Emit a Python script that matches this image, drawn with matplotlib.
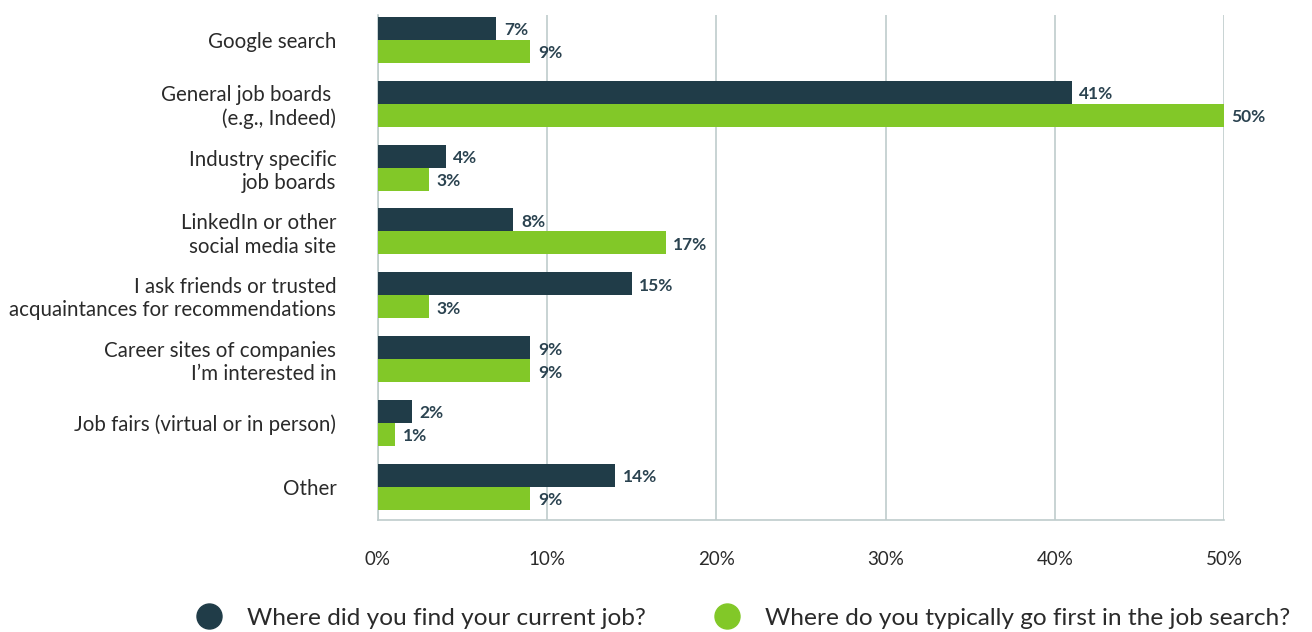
import matplotlib
import matplotlib.pyplot as plt
import numpy as np
from matplotlib.lines import Line2D

matplotlib.use('Agg')

plt.rcParams["font.family"] = ["Lato", "DejaVu Sans"]

# 数据
categories = [
    "Google search",
    "General job boards \n(e.g., Indeed)",
    "Industry specific\njob boards",
    "LinkedIn or other\nsocial media site",
    "I ask friends or trusted\nacquaintances for recommendations",
    "Career sites of companies\nI\u2019m interested in",
    "Job fairs (virtual or in person)",
    "Other",
]
current_job = [7, 41, 4, 8, 15, 9, 2, 14]
first_go = [9, 50, 3, 17, 3, 9, 1, 9]
series_names = ["Where did you find your current job?",
                "Where do you typically go first in the job search?"]
x_ticks = [0, 10, 20, 30, 40, 50]

dark = "#203c48"
green = "#82c828"
grid_c = "#bfcccc"
text_c = "#2a2a2a"

fig = plt.figure(figsize=(13.12, 6.32), dpi=100)
ax = fig.add_axes([0.2881, 0.1772, 0.6448, 0.7991])

y = np.arange(len(categories))
h = 0.36
b1 = ax.barh(y - h / 2, current_job, height=h, color=dark, zorder=3)
b2 = ax.barh(y + h / 2, first_go, height=h, color=green, zorder=3)

# 数值标签
for bars, vals in ((b1, current_job), (b2, first_go)):
    for bar, v in zip(bars, vals):
        ax.text(v + 0.45, bar.get_y() + bar.get_height() / 2 + 0.03, f"{v}%",
                va="center", ha="left", fontsize=12.5, fontweight="bold",
                color="#2b4350", zorder=4)

ax.set_xlim(0, 50)
ax.set_ylim(7.52, -0.39)
ax.set_yticks(y)
ax.set_yticklabels(categories, fontsize=14.8, color=text_c, linespacing=1.2)
ax.set_xticks(x_ticks)
ax.set_xticklabels([f"{t}%" for t in x_ticks], fontsize=13.5, color=text_c)
ax.tick_params(axis="y", length=0, pad=30)
ax.tick_params(axis="x", length=0, pad=22)

ax.grid(axis="x", color=grid_c, linewidth=1.2, zorder=0)
for s in ("top", "right"):
    ax.spines[s].set_visible(False)
for s in ("left", "bottom"):
    ax.spines[s].set_color(grid_c)
    ax.spines[s].set_linewidth(1.2)

# 图例
handles = [Line2D([], [], marker="o", linestyle="none", markersize=18, color=c)
           for c in (dark, green)]
fig.legend(handles, series_names, loc="center", bbox_to_anchor=(0.562, 0.022),
           ncol=2, frameon=False, fontsize=17.6, handletextpad=0.55,
           columnspacing=2.3, labelcolor=text_c)

plt.savefig("out.png", dpi=100)
